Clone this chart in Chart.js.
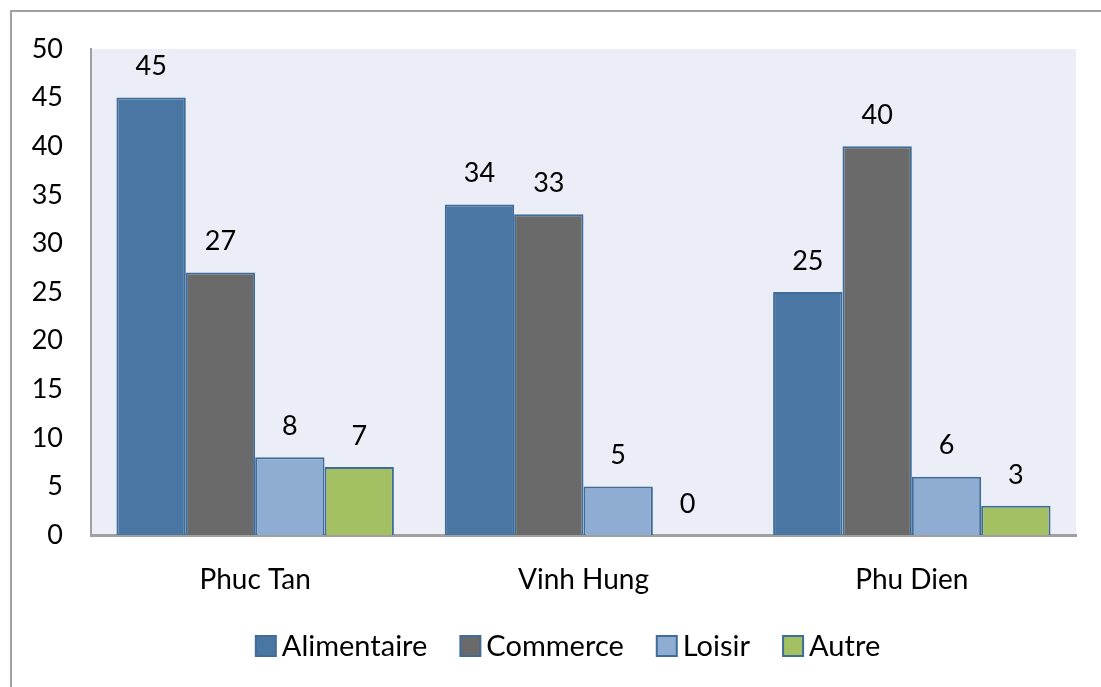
<!DOCTYPE html>
<html>
<head>
<meta charset="utf-8">
<script src="https://cdn.jsdelivr.net/npm/chart.js@4/dist/chart.umd.min.js"></script>
<style>
  html, body { margin: 0; padding: 0; background: #ffffff; }
  #wrap { width: 1101px; height: 687px; }
</style>
</head>
<body>
<div id="wrap"><canvas id="chart" width="1101" height="687"></canvas></div>
<script>
// Données par quartier
const quartiers = ['Phuc Tan', 'Vinh Hung', 'Phu Dien'];
const alimentaire = [45, 34, 25];
const commerce = [27, 33, 40];
const loisir = [8, 5, 6];
const autre = [7, 0, 3];
const yTicks = [0, 5, 10, 15, 20, 25, 30, 35, 40, 45, 50];

const FONT = 'Lato, "Open Sans", sans-serif';
const BORDER = '#3F6C98';

// Fond de la zone de tracé + cadre extérieur
const cadre = {
    id: 'cadre',
    beforeDraw(chart) {
        const { ctx, chartArea: a } = chart;
        ctx.save();
        ctx.fillStyle = '#EBEEF6';
        ctx.fillRect(a.left, a.top, a.right - a.left, a.bottom - a.top);
        ctx.strokeStyle = '#A0A0A0';
        ctx.lineWidth = 2;
        ctx.strokeRect(11, 11, 1200, 800);
        ctx.restore();
    }
};

// Valeurs au-dessus des barres
const etiquettes = {
    id: 'etiquettes',
    afterDatasetsDraw(chart) {
        const { ctx } = chart;
        ctx.save();
        ctx.fillStyle = '#000';
        ctx.font = '27px ' + FONT;
        ctx.textAlign = 'center';
        ctx.textBaseline = 'middle';
        chart.data.datasets.forEach((ds, i) => {
            chart.getDatasetMeta(i).data.forEach((bar, j) => {
                ctx.fillText(ds.data[j], bar.x, bar.y - 31);
            });
        });
        ctx.restore();
    }
};

// Légende en bas, carrés serrés contre le texte
const legende = {
    id: 'legende',
    afterDraw(chart) {
        const { ctx } = chart;
        const box = 20, gapTexte = 6, gapItem = 33, cy = 646, cx = 568;
        ctx.save();
        ctx.font = '29px ' + FONT;
        ctx.textBaseline = 'middle';
        const items = chart.data.datasets.map(ds => ({ ds, w: ctx.measureText(ds.label).width }));
        const total = items.reduce((s, it) => s + box + gapTexte + it.w, 0) + gapItem * (items.length - 1);
        let x = cx - total / 2;
        items.forEach(it => {
            ctx.fillStyle = it.ds.backgroundColor;
            ctx.fillRect(x, cy - box / 2, box, box);
            ctx.strokeStyle = BORDER;
            ctx.lineWidth = 2;
            ctx.strokeRect(x, cy - box / 2, box, box);
            ctx.fillStyle = '#000';
            ctx.fillText(it.ds.label, x + box + gapTexte, cy + 1);
            x += box + gapTexte + it.w + gapItem;
        });
        ctx.restore();
    }
};

function serie(label, data, color) {
    return {
        label: label,
        data: data,
        backgroundColor: color,
        borderColor: BORDER,
        borderWidth: 2,
        borderSkipped: 'bottom',
        barPercentage: 1,
        categoryPercentage: 0.845
    };
}

new Chart(document.getElementById('chart'), {
    type: 'bar',
    data: {
        labels: quartiers,
        datasets: [
            serie('Alimentaire', alimentaire, '#4A76A3'),
            serie('Commerce', commerce, '#6A6A6A'),
            serie('Loisir', loisir, '#8FADD2'),
            serie('Autre', autre, '#A3C162')
        ]
    },
    options: {
        responsive: false,
        animation: false,
        layout: { padding: { left: 0, top: 49, right: 25, bottom: 65 } },
        scales: {
            x: {
                grid: { display: false, drawTicks: false },
                border: { color: '#A0A0A0', width: 3 },
                ticks: { color: '#000', font: { family: FONT, size: 28 }, padding: 28 },
                afterFit(s) { s.height = 87; }
            },
            y: {
                min: 0,
                max: 50,
                afterBuildTicks(s) { s.ticks = yTicks.map(v => ({ value: v })); },
                grid: { display: false, drawTicks: false },
                border: { color: '#A0A0A0', width: 2 },
                ticks: { color: '#000', font: { family: FONT, size: 27 }, padding: 28 },
                afterFit(s) { s.width = 91; }
            }
        },
        plugins: {
            legend: { display: false },
            tooltip: { enabled: false }
        }
    },
    plugins: [cadre, etiquettes, legende]
});
</script>
</body>
</html>
